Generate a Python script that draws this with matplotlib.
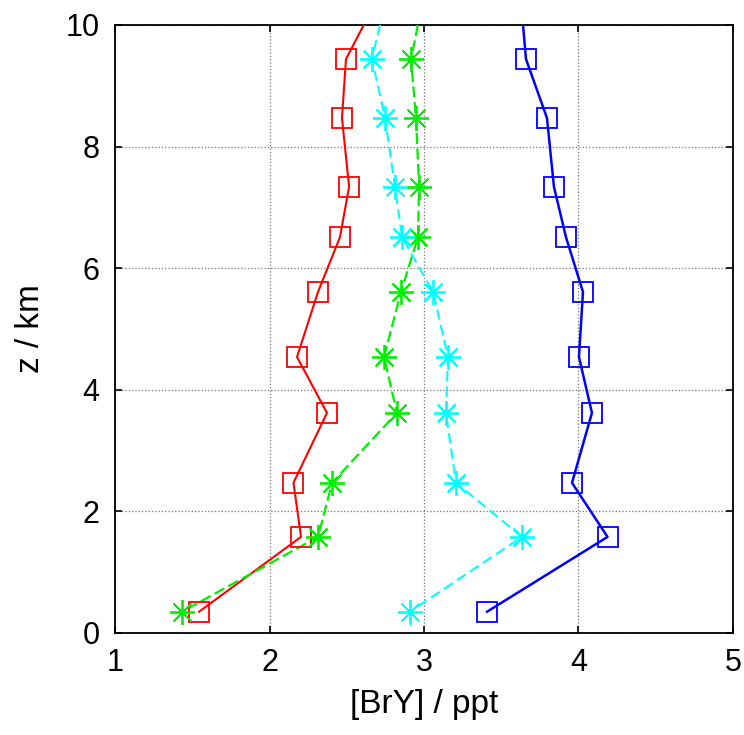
import numpy as np
import matplotlib.pyplot as plt

plt.rcParams['font.family'] = ['Liberation Sans', 'DejaVu Sans']

# altitude of the retrieval levels (km)
z = [9.44, 8.47, 7.34, 6.51, 5.61, 4.54, 3.62, 2.47, 1.58, 0.35]
# profiles are continued to the top of the plot
z_top = 10.0

red = [2.495, 2.469, 2.515, 2.456, 2.314, 2.178, 2.372, 2.155, 2.204, 1.544]
red_top = 2.61
green = [2.916, 2.948, 2.968, 2.961, 2.851, 2.741, 2.825, 2.405, 2.314, 1.434]
green_top = 2.96
cyan = [2.663, 2.748, 2.812, 2.858, 3.059, 3.155, 3.142, 3.207, 3.634, 2.909]
cyan_top = 2.715
blue = [3.660, 3.796, 3.841, 3.919, 4.029, 4.003, 4.087, 3.958, 4.188, 3.408]
blue_top = 3.641

xticks = [1, 2, 3, 4, 5]
yticks = [0, 2, 4, 6, 8, 10]

fig = plt.figure(figsize=(7.44, 7.35), dpi=100)
ax = fig.add_axes([0.1546, 0.1388, 0.8306, 0.8272])

star = (8, 2, 0)
series = [
    (red, red_top, '#ff0000', '-', 1.5, 's', 14),
    (green, green_top, '#00ee00', (0, (5, 2)), 1.6, star, 18),
    (cyan, cyan_top, '#00ffff', (0, (5, 2.5)), 1.5, star, 18),
    (blue, blue_top, '#0000ff', '-', 1.8, 's', 14),
]

for x, x_top, col, ls, lw, mk, ms in series:
    ax.plot([x_top] + x, [z_top] + z, color=col, linestyle=ls, lw=lw, zorder=3)
    ax.plot(x, z, linestyle='none', marker=mk, markersize=ms,
            markerfacecolor='none', markeredgecolor=col,
            markeredgewidth=1.3, zorder=4)

ax.set_xlim(1, 5)
ax.set_ylim(0, 10)
ax.set_xticks(xticks)
ax.set_yticks(yticks)
ax.grid(True, linestyle=':', color='0.45', lw=0.9)
ax.tick_params(direction='in', length=5, width=1.2, labelsize=22,
               top=True, right=True, pad=11)
for s in ax.spines.values():
    s.set_linewidth(1.3)

ax.set_xlabel('[BrY] / ppt', fontsize=24, labelpad=8)
ax.set_ylabel('z / km', fontsize=24, labelpad=14)

fig.savefig('out.png', dpi=100)
